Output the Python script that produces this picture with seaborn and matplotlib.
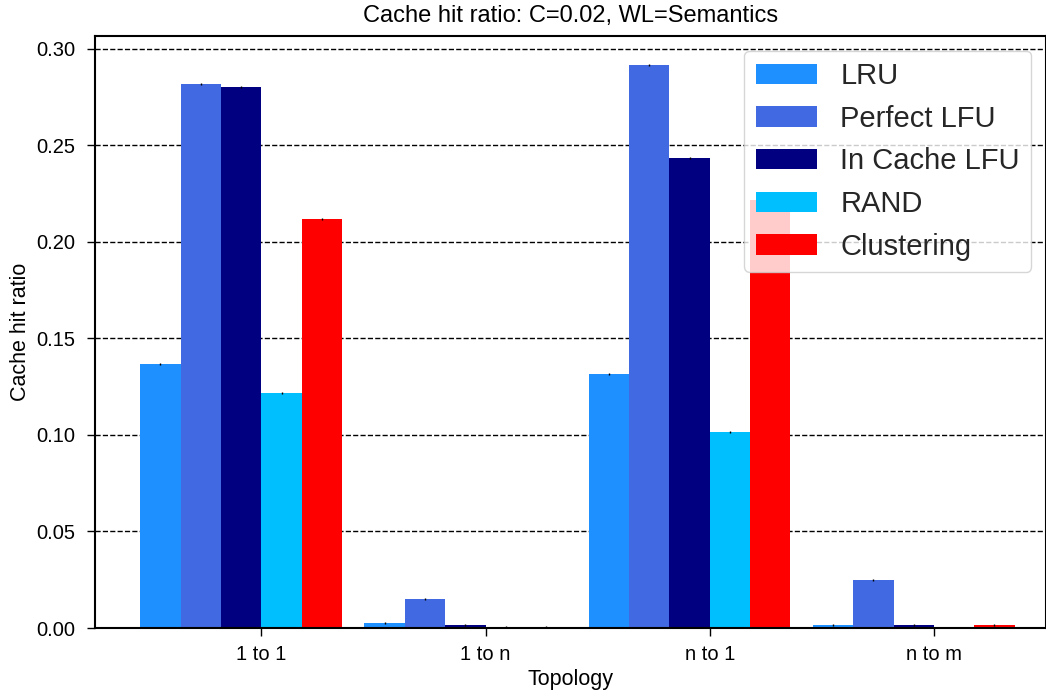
import numpy as np
import pandas as pd
import matplotlib
matplotlib.use("Agg")
import matplotlib.pyplot as plt
import seaborn as sns

topologies = ["1 to 1", "1 to n", "n to 1", "n to m"]
strategies = ["LRU", "Perfect LFU", "In Cache LFU", "RAND", "Clustering"]
lru = [0.1367, 0.0027, 0.1317, 0.0014]
perfect_lfu = [0.2818, 0.0149, 0.2917, 0.0248]
in_cache_lfu = [0.2802, 0.0014, 0.2434, 0.0014]
rand = [0.1216, 0.0002, 0.1016, 0.0001]
clustering = [0.2120, 0.0002, 0.2218, 0.0014]
errors = 0.0006
colors = ["#1E90FF", "#4169E1", "#000080", "#00BFFF", "#FF0000"]

series = [lru, perfect_lfu, in_cache_lfu, rand, clustering]
rows = []
for s, vals in zip(strategies, series):
    for t, v in zip(topologies, vals):
        rows.append({"Topology": t, "Strategy": s, "Cache hit ratio": v})
df = pd.DataFrame(rows)

sns.set_theme(style="ticks")
plt.rcParams["font.family"] = ["Liberation Sans", "DejaVu Sans"]

fig = plt.figure(figsize=(10.46, 6.95), dpi=100)
ax = fig.add_axes([0.0908, 0.0964, 0.9092, 0.8518])

bw = 0.18
sns.barplot(data=df, x="Topology", y="Cache hit ratio", hue="Strategy",
            hue_order=strategies, order=topologies, palette=colors,
            width=bw * len(strategies), errorbar=None, saturation=1,
            linewidth=0, ax=ax)

for k, vals in enumerate(series):
    xs = np.arange(len(topologies)) + (k - 2) * bw
    ax.errorbar(xs, vals, yerr=errors, fmt="none", ecolor="black",
                elinewidth=1, capsize=0, zorder=5)

ax.set_xlim(-0.652, 3.59)
ax.set_ylim(0, 0.3067)
ax.set_xticks(np.arange(len(topologies)) + bw / 2)
ax.set_xticklabels(topologies)
ax.set_yticks(np.arange(0, 0.31, 0.05))
ax.set_yticklabels([f"{v:.2f}" for v in np.arange(0, 0.31, 0.05)])
ax.yaxis.grid(True, linestyle="--", color="black", linewidth=1)
ax.set_axisbelow(True)
for sp in ax.spines.values():
    sp.set_visible(True)
    sp.set_color("black")
    sp.set_linewidth(1.5)
ax.tick_params(axis="both", labelsize=14.5, colors="black", length=6, width=1)
ax.tick_params(axis="x", pad=6)
ax.tick_params(axis="y", pad=8)
ax.set_xlabel("Topology", fontsize=15.5, color="black")
ax.set_ylabel("Cache hit ratio", fontsize=15.5, color="black")
ax.set_title("Cache hit ratio: C=0.02, WL=Semantics", fontsize=17,
             color="black", pad=10)

leg = ax.legend(loc="upper right", fontsize=21, frameon=True, framealpha=0.8,
                fancybox=True, edgecolor="#cccccc", handlelength=2.1,
                borderaxespad=0.5)
leg.set_title(None)

fig.savefig("out.png", dpi=100)
